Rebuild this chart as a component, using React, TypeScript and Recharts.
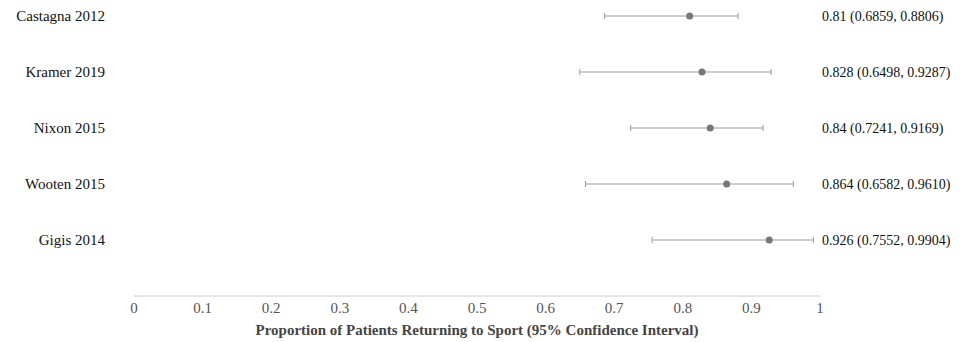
import { ScatterChart, Scatter, XAxis, YAxis, ErrorBar } from 'recharts';

// Studies, top to bottom
const studies = ['Castagna 2012', 'Kramer 2019', 'Nixon 2015', 'Wooten 2015', 'Gigis 2014'];
const proportions = [0.81, 0.828, 0.84, 0.864, 0.926];
const lowerCI = [0.6859, 0.6498, 0.7241, 0.6582, 0.7552];
const upperCI = [0.8806, 0.9287, 0.9169, 0.961, 0.9904];
const annotations = [
  '0.81 (0.6859, 0.8806)',
  '0.828 (0.6498, 0.9287)',
  '0.84 (0.7241, 0.9169)',
  '0.864 (0.6582, 0.9610)',
  '0.926 (0.7552, 0.9904)',
];
const xTicks = [0, 0.1, 0.2, 0.3, 0.4, 0.5, 0.6, 0.7, 0.8, 0.9, 1];

const rowCount = studies.length;
const data = studies.map((name, i) => ({
  name,
  p: proportions[i],
  row: rowCount - i,
  err: [proportions[i] - lowerCI[i], upperCI[i] - proportions[i]],
}));
const rowTicks = data.map(d => d.row).reverse();
const labelFor = (row: number) => studies[rowCount - row] ?? '';
const annotFor = (row: number) => annotations[rowCount - row] ?? '';

const font = '"Liberation Serif", "Times New Roman", serif';

export default function App() {
  return (
    <div style={{ position: 'absolute', left: 0, top: 0, background: '#fff' }}>
      <ScatterChart width={980} height={342} margin={{ top: 16, right: 0, bottom: 0, left: 0 }}>
        <XAxis
          type="number"
          dataKey="p"
          domain={[0, 1]}
          ticks={xTicks}
          tickFormatter={(v: number) => String(v)}
          axisLine={{ stroke: '#dcdcdc', strokeWidth: 1.5 }}
          tickLine={false}
          tickSize={0}
          tickMargin={6}
          height={46}
          tick={{ fill: '#555', fontSize: 15, fontFamily: font }}
          label={{
            value: 'Proportion of Patients Returning to Sport (95% Confidence Interval)',
            position: 'insideBottom',
            offset: 7,
            fill: '#444',
            fontSize: 15,
            fontWeight: 'bold',
            fontFamily: font,
          }}
        />
        <YAxis
          yAxisId="left"
          type="number"
          dataKey="row"
          domain={[0, rowCount]}
          ticks={rowTicks}
          tickFormatter={labelFor}
          width={134}
          axisLine={false}
          tickLine={false}
          tickSize={0}
          tickMargin={29}
          tick={{ fill: '#111', fontSize: 15, fontFamily: font }}
        />
        <YAxis
          yAxisId="right"
          orientation="right"
          type="number"
          domain={[0, rowCount]}
          ticks={rowTicks}
          tickFormatter={annotFor}
          width={160}
          axisLine={false}
          tickLine={false}
          tickSize={0}
          tickMargin={2}
          tick={{ fill: '#111', fontSize: 14, fontFamily: font, textAnchor: 'start' }}
        />
        <Scatter
          yAxisId="left"
          data={data}
          fill="#777"
          isAnimationActive={false}
          shape={(props: any) => <circle cx={props.cx} cy={props.cy} r={3.5} fill="#777" />}
        >
          <ErrorBar dataKey="err" direction="x" width={3} stroke="#999" strokeWidth={1} isAnimationActive={false} />
        </Scatter>
        <Scatter yAxisId="right" data={data} dataKey="row" fill="none" isAnimationActive={false} shape={() => null} />
      </ScatterChart>
    </div>
  );
}
